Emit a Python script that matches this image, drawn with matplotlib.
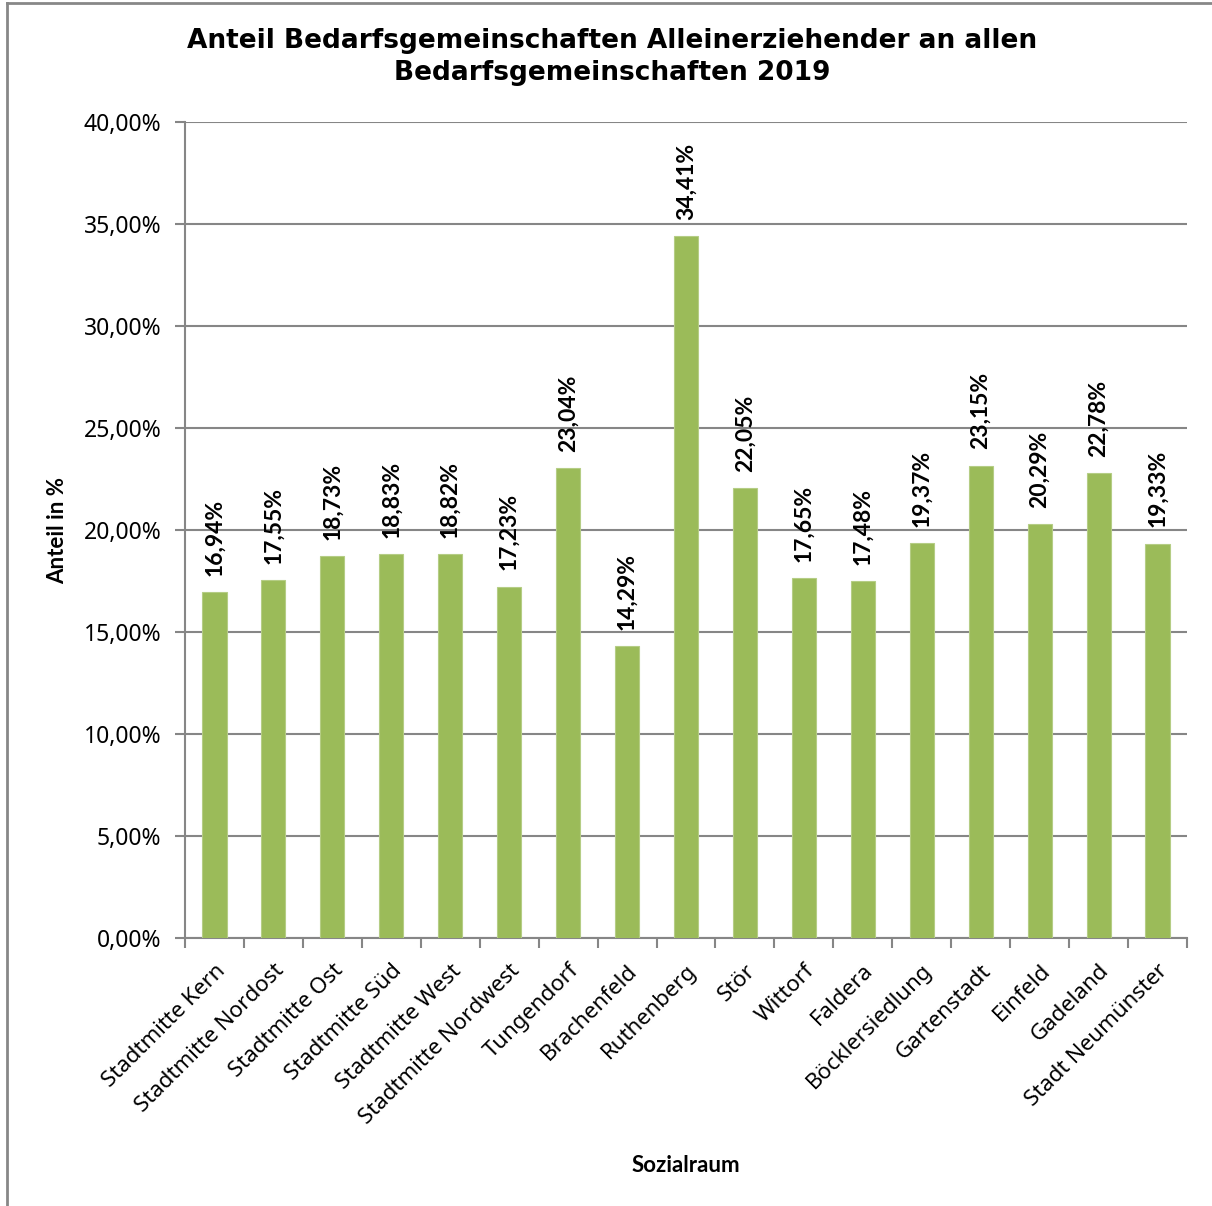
import numpy as np
import matplotlib
matplotlib.use("Agg")
import matplotlib.pyplot as plt
from matplotlib.lines import Line2D
from matplotlib.ticker import FixedLocator, FuncFormatter

# data
sozialraum = ["Stadtmitte Kern", "Stadtmitte Nordost", "Stadtmitte Ost", "Stadtmitte Süd",
              "Stadtmitte West", "Stadtmitte Nordwest", "Tungendorf", "Brachenfeld",
              "Ruthenberg", "Stör", "Wittorf", "Faldera", "Böcklersiedlung", "Gartenstadt",
              "Einfeld", "Gadeland", "Stadt Neumünster"]
anteil = [16.94, 17.55, 18.73, 18.83, 18.82, 17.23, 23.04, 14.29,
          34.41, 22.05, 17.65, 17.48, 19.37, 23.15, 20.29, 22.78, 19.33]

title = "Anteil Bedarfsgemeinschaften Alleinerziehender an allen\nBedarfsgemeinschaften 2019"
ylabel = "Anteil in %"
xlabel = "Sozialraum"

label_font = "Noto Sans"
bold_font = "Lato"   # noto sans has no bold face installed
bar_color = "#9BBB59"
grid_color = "#868686"

fig = plt.figure(figsize=(12.12, 12.06), dpi=100)
ax = fig.add_axes([185/1212, 1-938/1206, (1187-185)/1212, (938-122)/1206])

# left and top frame lines of the excel chart area
fig.lines.append(Line2D([7/1212, 7/1212], [0, 1-3/1206], transform=fig.transFigure,
                        color="#878787", linewidth=2))
fig.lines.append(Line2D([7/1212, 1], [1-3/1206, 1-3/1206], transform=fig.transFigure,
                        color="#878787", linewidth=2))

x = np.arange(len(sozialraum))
ax.bar(x, anteil, width=0.41, color=bar_color, edgecolor="#B5CD85", linewidth=0.8, zorder=3)

ax.set_xlim(-0.5, len(sozialraum) - 0.5)
ax.set_ylim(0, 40)
ax.set_yticks(np.arange(0, 41, 5))
ax.yaxis.set_major_formatter(FuncFormatter(lambda v, p: f"{v:.2f}%".replace(".", ",")))
ax.grid(axis="y", color=grid_color, linewidth=1.5, zorder=0)

# category labels centred on bars, tick marks between categories
ax.set_xticks(x)
ax.set_xticklabels(sozialraum, rotation=45, ha="right", va="top", rotation_mode="anchor",
                   family=label_font, fontsize=16)
ax.tick_params(axis="x", which="major", length=0, pad=16)
ax.xaxis.set_minor_locator(FixedLocator(np.arange(-0.5, len(sozialraum), 1.0)))
ax.tick_params(axis="x", which="minor", length=7, width=1.5, color=grid_color)
ax.tick_params(axis="y", length=7, width=1.5, color=grid_color, pad=10)
for lab in ax.get_yticklabels():
    lab.set_family(label_font)
    lab.set_fontsize(16.5)

for s in ["top", "right"]:
    ax.spines[s].set_visible(False)
for s in ["left", "bottom"]:
    ax.spines[s].set_color(grid_color)
    ax.spines[s].set_linewidth(1.5)

for xi, v in zip(x, anteil):
    ax.text(xi, v + 0.8, f"{v:.2f}%".replace(".", ","), rotation=90, ha="center", va="bottom",
            family=bold_font, fontweight="bold", fontsize=16.5)

fig.text(612/1212, 1-57/1206, title, ha="center", va="center", fontweight="bold",
         fontsize=19, family="DejaVu Sans", linespacing=1.25)
fig.text(58/1212, 1-530/1206, ylabel, rotation=90, ha="center", va="center",
         family=bold_font, fontweight="bold", fontsize=16)
fig.text(686/1212, 1-1165/1206, xlabel, ha="center", va="center",
         family=bold_font, fontweight="bold", fontsize=16)

fig.savefig("out.png", dpi=100)
